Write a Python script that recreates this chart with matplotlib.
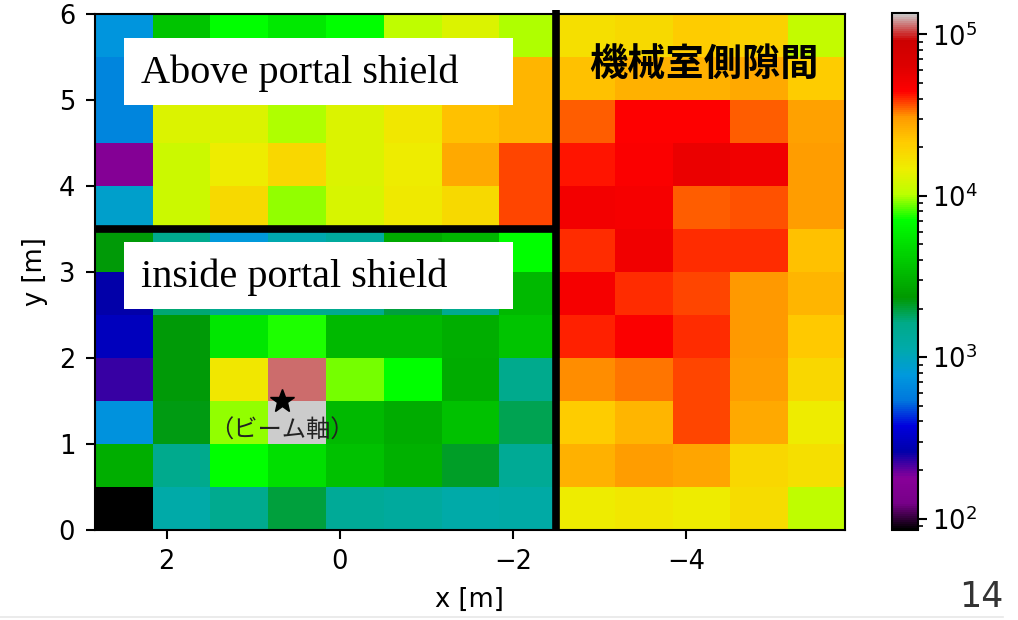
#!/usr/bin/env python3
"""Dose map around the portal shield (log colour scale)."""

import matplotlib
matplotlib.use("Agg")
import matplotlib.pyplot as plt
from matplotlib.colors import LogNorm
from matplotlib.lines import Line2D
from matplotlib.patches import Rectangle
import numpy as np

W, H = 1018, 620
CJK = ["Noto Sans CJK JP", "DejaVu Sans"]
SERIF = ["Liberation Serif", "DejaVu Serif"]

# grid extent: 13 columns of 2/3 m, 12 rows of 0.5 m
X_LEFT, X_RIGHT = 2.8333, -5.8333
Y_BOTTOM, Y_TOP = 0.0, 6.0

# cell values, top row (y = 5.5-6.0) first, columns from x = +2.83 to -5.83
ROW_0 = [750, 3800, 7000, 5600, 7000, 10500, 13000, 10000, 17000, 18000, 21000, 20000, 11000]
ROW_1 = [630, 12000, 14000, 11000, 13000, 16000, 20000, 25000, 23000, 26000, 26000, 27000, 21000]
ROW_2 = [630, 13000, 13000, 10000, 13000, 16000, 23000, 25000, 35000, 45000, 45000, 35000, 29000]
ROW_3 = [165, 11500, 15000, 19000, 13000, 15000, 27000, 37000, 42000, 46000, 55000, 52000, 30000]
ROW_4 = [900, 11500, 18000, 9500, 12500, 15500, 18000, 37000, 50000, 48000, 35000, 36000, 30000]
ROW_5 = [2300, 1500, 800, 1100, 1300, 2800, 3200, 7000, 40000, 52000, 40000, 40000, 23000]
ROW_6 = [260, 1700, 1500, 1500, 1500, 2000, 1500, 3300, 48000, 40000, 38000, 31000, 25000]
ROW_7 = [300, 2300, 5500, 7500, 3300, 3300, 3000, 3800, 41000, 46000, 40000, 31000, 22000]
ROW_8 = [220, 2300, 16000, 112000, 9000, 7000, 2900, 1550, 32000, 33000, 37000, 30000, 19000]
ROW_9 = [720, 2200, 9500, 135000, 3300, 2900, 3600, 1900, 21000, 25000, 37000, 27000, 15000]
ROW_10 = [3000, 1550, 7000, 5000, 3600, 3100, 2100, 1400, 26000, 30000, 28000, 19000, 17000]
ROW_11 = [85, 1150, 1500, 2000, 1350, 1300, 1150, 1200, 15000, 16000, 15000, 17500, 10500]

# shield walls
WALL_X = -2.5
WALL_Y = 3.5
BEAM_AXIS = (0.67, 1.5)


def px(x, y):
    """pixel position (from top-left) -> figure fraction"""
    return x / W, 1 - y / H


def main():
    dose = np.array([ROW_0, ROW_1, ROW_2, ROW_3, ROW_4, ROW_5, ROW_6,
                     ROW_7, ROW_8, ROW_9, ROW_10, ROW_11], dtype=float)

    fig = plt.figure(figsize=(W / 100, H / 100), dpi=100)
    ax = fig.add_axes([94.6 / W, 90 / H, (845 - 94.6) / W, 516 / H])
    cax = fig.add_axes([892 / W, 90 / H, 26 / W, 516.7 / H])

    im = ax.imshow(dose, cmap="nipy_spectral", norm=LogNorm(),
                   extent=(X_LEFT, X_RIGHT, Y_BOTTOM, Y_TOP),
                   origin="upper", aspect="auto", interpolation="nearest")
    ax.set_xlim(X_LEFT, X_RIGHT)
    ax.set_ylim(Y_BOTTOM, Y_TOP)

    # wall positions
    ax.plot([WALL_X, WALL_X], [0, 6.05], color="black", lw=5.5, clip_on=False,
            solid_capstyle="butt", zorder=3)
    ax.plot([X_LEFT, WALL_X], [WALL_Y, WALL_Y], color="black", lw=5.5,
            solid_capstyle="butt", zorder=3)

    ax.plot(*BEAM_AXIS, marker="*", color="black", markersize=18, zorder=4)
    ax.text(BEAM_AXIS[0], 1.15, "（ビーム軸）", family=CJK, fontsize=17.5,
            color="#222222", ha="center", va="center", zorder=4)
    ax.text(-4.2, 5.41, "機械室側隙間", family=CJK, fontsize=27.5,
            fontweight="bold", color="black", ha="center", va="center", zorder=4)

    ax.set_xticks([2, 0, -2, -4])
    ax.set_yticks(range(7))
    ax.set_xlabel("x [m]", fontsize=18.5, labelpad=8)
    ax.set_ylabel("y [m]", fontsize=18.5, labelpad=8)
    ax.tick_params(labelsize=18.5, length=6.5, width=1.5, pad=7.5)
    for sp in ax.spines.values():
        sp.set_linewidth(1.5)

    cb = fig.colorbar(im, cax=cax)
    cb.outline.set_linewidth(1.5)
    cax.tick_params(which="major", labelsize=18.5, length=6.5, width=1.5)
    cax.tick_params(which="minor", length=3.7, width=1.2)

    # white label boxes
    for top, bottom in [(38, 105), (242, 309)]:
        x0, y0 = px(124, bottom)
        fig.add_artist(Rectangle((x0, y0), 389 / W, (bottom - top) / H,
                                 transform=fig.transFigure, facecolor="white",
                                 edgecolor="none", zorder=5))
    fig.text(*px(141, 83), "Above portal shield", family=SERIF, fontsize=29,
             va="baseline", ha="left", zorder=6)
    fig.text(*px(141, 287), "inside portal shield", family=SERIF, fontsize=29,
             va="baseline", ha="left", zorder=6)

    fig.text(*px(981, 597), "14", fontsize=25, color="#333333",
             family=["Liberation Sans Narrow", "DejaVu Sans"],
             ha="center", va="center")
    fig.add_artist(Line2D([0, 0.985], [0.005, 0.005], transform=fig.transFigure,
                          color="#e8e8e8", lw=1.2))

    fig.savefig("out.png", dpi=100)
    plt.close(fig)


if __name__ == "__main__":
    main()
